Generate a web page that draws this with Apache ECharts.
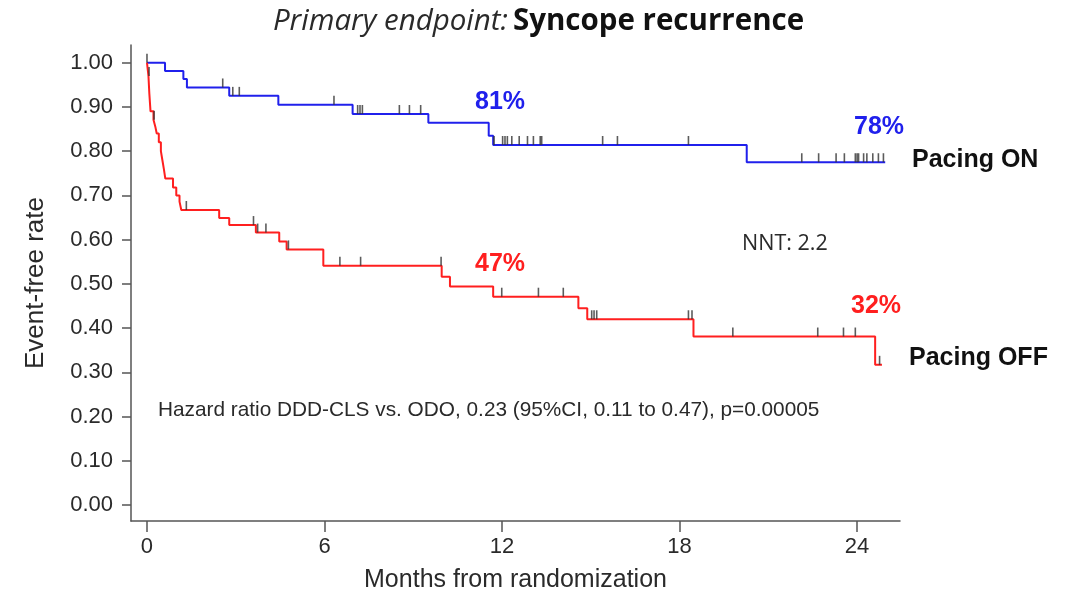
<!DOCTYPE html>
<html>
<head>
<meta charset="utf-8">
<script src="https://cdn.jsdelivr.net/npm/echarts@6/dist/echarts.min.js"></script>
<style>html,body{margin:0;padding:0;background:#fff;}#c{width:1077px;height:592px;}</style>
</head>
<body>
<div id="c"></div>
<script>
// Kaplan-Meier step data (time in months, event-free rate after that time)
const onTimes  = [0, 0.61, 1.23, 1.35, 2.78, 4.44, 6.95, 9.51, 11.55, 11.7, 20.27, 24.95];
const onRates  = [1.00, 0.981, 0.963, 0.944, 0.925, 0.905, 0.884, 0.864, 0.835, 0.814, 0.775, 0.775];
const onCensor = [0, 2.56, 2.9, 3.12, 6.32, 7.12, 7.2, 7.28, 8.53, 8.87, 9.25, 11.73, 12.02, 12.1, 12.18, 12.33, 12.58, 12.86, 13.06, 13.29, 13.34, 15.4, 15.9, 18.3, 22.13, 22.7, 23.29, 23.57, 23.94, 24.0, 24.05, 24.22, 24.33, 24.53, 24.72, 24.89];

const offTimes  = [0, 0.05, 0.08, 0.12, 0.22, 0.28, 0.33, 0.4, 0.47, 0.52, 0.57, 0.62, 0.88, 0.99, 1.1, 1.16, 2.44, 2.78, 3.68, 4.47, 4.72, 5.96, 9.96, 10.24, 11.7, 14.58, 14.88, 18.47, 24.61, 24.84];
const offRates  = [1.0, 0.97, 0.93, 0.89, 0.871, 0.856, 0.84, 0.82, 0.80, 0.78, 0.76, 0.738, 0.718, 0.70, 0.686, 0.667, 0.649, 0.633, 0.616, 0.596, 0.578, 0.541, 0.516, 0.494, 0.471, 0.445, 0.42, 0.381, 0.317, 0.317];
const offCensor = [0.07, 0.24, 1.33, 3.6, 3.74, 4.02, 4.78, 6.52, 7.22, 9.94, 11.99, 13.23, 14.07, 15.03, 15.11, 15.2, 18.3, 18.42, 19.8, 22.67, 23.54, 23.94, 24.76];

const xTicks = [0, 6, 12, 18, 24];
const yTicks = [0, 0.1, 0.2, 0.3, 0.4, 0.5, 0.6, 0.7, 0.8, 0.9, 1.0];

const titleItalic = 'Primary endpoint:';
const titleBold = 'Syncope recurrence';
const onLabel = 'Pacing ON';
const offLabel = 'Pacing OFF';
const onPct = ['81%', '78%'];
const offPct = ['47%', '32%'];
const nntText = 'NNT: 2.2';
const hrText = 'Hazard ratio DDD-CLS vs. ODO, 0.23 (95%CI, 0.11 to 0.47), p=0.00005';

function stepAt(times, rates, t) {
  let v = rates[0];
  for (let i = 0; i < times.length; i++) { if (times[i] <= t) v = rates[i]; }
  return v;
}
const zip = (a, b) => a.map((x, i) => [x, b[i]]);
const censorPts = (c, times, rates) => c.map(t => [t, stepAt(times, rates, t)]);

const BLUE = '#2020ec';
const RED = '#ff1f1f';
const AX = '#555';
const TXT = '#2a2a2a';

const chart = echarts.init(document.getElementById('c'), null, {renderer: 'canvas'});
const censorStyle = {
  type: 'scatter', symbol: 'rect', symbolSize: [1.6, 9], symbolOffset: [0, -4.5],
  itemStyle: {color: '#333'}, z: 5, silent: true
};
chart.setOption({
  animation: false,
  backgroundColor: '#fff',
  grid: {left: 131, top: 45, right: 177, bottom: 71, containLabel: false, outerBoundsMode: 'none'},
  title: {
    text: '{i|' + titleItalic + '} {b|' + titleBold + '}',
    left: 'center', top: 2,
    textStyle: {
      fontWeight: 'normal',
      rich: {
        i: {fontFamily: 'Open Sans', fontStyle: 'italic', fontWeight: 'normal', fontSize: 29.5, color: '#2a2a2a'},
        b: {fontFamily: 'Open Sans', fontWeight: 'bold', fontSize: 29.5, color: '#111'}
      }
    }
  },
  xAxis: {
    type: 'value', min: -0.54, max: 25.45,
    name: 'Months from randomization', nameLocation: 'middle', nameGap: 47,
    nameTextStyle: {fontFamily: 'Liberation Sans', fontSize: 25, color: TXT},
    axisLine: {show: true, onZero: false, lineStyle: {color: AX, width: 1.5}},
    axisTick: {show: true, customValues: xTicks, length: 11, lineStyle: {color: AX, width: 1.5}},
    axisLabel: {customValues: xTicks, fontFamily: 'Liberation Sans', fontSize: 22, color: TXT, margin: 15},
    splitLine: {show: false}
  },
  yAxis: {
    type: 'value', min: -0.036, max: 1.04,
    name: 'Event-free rate', nameLocation: 'middle', nameRotate: 90, nameGap: 82,
    nameTextStyle: {fontFamily: 'Liberation Sans', fontSize: 26, color: TXT},
    axisLine: {show: true, onZero: false, lineStyle: {color: AX, width: 1.5}},
    axisTick: {show: true, customValues: yTicks, length: 9, lineStyle: {color: AX, width: 1.5}},
    axisLabel: {customValues: yTicks, formatter: v => v.toFixed(2), fontFamily: 'Liberation Sans', fontSize: 22, color: TXT, margin: 18},
    splitLine: {show: false}
  },
  series: [
    {type: 'line', step: 'end', data: zip(onTimes, onRates), showSymbol: false, lineStyle: {color: BLUE, width: 2}, z: 3, silent: true},
    {type: 'line', step: 'end', data: zip(offTimes, offRates), showSymbol: false, lineStyle: {color: RED, width: 2}, z: 3, silent: true},
    Object.assign({data: censorPts(onCensor, onTimes, onRates)}, censorStyle),
    Object.assign({data: censorPts(offCensor, offTimes, offRates)}, censorStyle)
  ],
  graphic: [
    {type: 'text', x: 500, y: 102, style: {text: onPct[0], fill: BLUE, font: 'bold 25px "Liberation Sans"', align: 'center', verticalAlign: 'middle'}},
    {type: 'text', x: 879, y: 127, style: {text: onPct[1], fill: BLUE, font: 'bold 25px "Liberation Sans"', align: 'center', verticalAlign: 'middle'}},
    {type: 'text', x: 500, y: 264, style: {text: offPct[0], fill: RED, font: 'bold 25px "Liberation Sans"', align: 'center', verticalAlign: 'middle'}},
    {type: 'text', x: 876, y: 306, style: {text: offPct[1], fill: RED, font: 'bold 25px "Liberation Sans"', align: 'center', verticalAlign: 'middle'}},
    {type: 'text', x: 912, y: 160, style: {text: onLabel, fill: '#111', font: 'bold 25px "Liberation Sans"', align: 'left', verticalAlign: 'middle'}},
    {type: 'text', x: 909, y: 358, style: {text: offLabel, fill: '#111', font: 'bold 25px "Liberation Sans"', align: 'left', verticalAlign: 'middle'}},
    {type: 'text', x: 742, y: 244, style: {text: nntText, fill: TXT, font: '21.5px "Open Sans"', align: 'left', verticalAlign: 'middle'}},
    {type: 'text', x: 158, y: 410, style: {text: hrText, fill: TXT, font: '20.8px "Liberation Sans"', align: 'left', verticalAlign: 'middle'}}
  ]
});
</script>
</body>
</html>
